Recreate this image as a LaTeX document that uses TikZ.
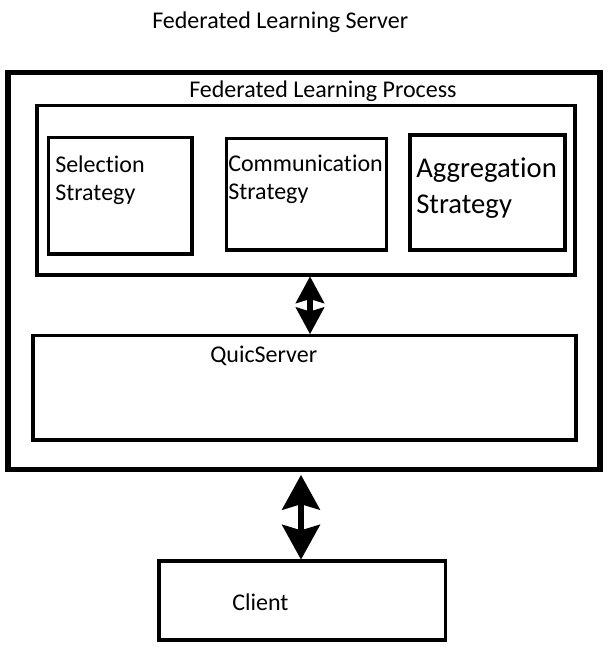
\documentclass[tikz,border=0pt]{standalone}
\usepackage{fontspec}
\setmainfont[Ligatures={NoCommon}]{Carlito}
\usetikzlibrary{arrows.meta,fit}
\begin{document}
\begin{tikzpicture}[x=0.75pt,y=-0.75pt,
  thinbox/.style={draw, line width=2.3pt, inner sep=0pt, outer sep=0pt},
  thickbox/.style={draw, line width=3.8pt, inner sep=0pt, outer sep=0pt},
  lbl/.style={anchor=base west, inner sep=0pt, align=left, font=\fontsize{18}{21}\selectfont},
  biglbl/.style={anchor=base west, inner sep=0pt, align=left, font=\fontsize{21.5}{26.5}\selectfont},
  dblA/.style={line width=4.5pt, {Stealth[length=20pt,width=21pt,inset=3pt]}-{Stealth[length=20pt,width=21pt,inset=3pt]}},
  dblB/.style={line width=5pt, {Stealth[length=26pt,width=28pt,inset=4pt]}-{Stealth[length=26pt,width=28pt,inset=4pt]}}]
\useasboundingbox (0,0) rectangle (613,651);
% boxes
\node[thickbox, fit={(8,72.5) (600,469.5)}] (server) {};
\node[thinbox, fit={(37,105.5) (575,275)}] (proc) {};
\node[thinbox, fit={(48.5,137.5) (192,254)}] (sel) {};
\node[thinbox, fit={(226.5,138.5) (386.5,250)}] (comm) {};
\node[thinbox, fit={(410,135) (565,250)}] (agg) {};
\node[thinbox, fit={(33,335.5) (576,440)}] (quic) {};
\node[thinbox, fit={(159,561) (445.5,640)}] (client) {};
% labels
\node[lbl] (title) at (152,28) {Federated Learning Server};
\node[lbl] (proclbl) at (189,97) {Federated Learning Process};
\node[lbl] (sellbl) at (55,200) {Selection\\Strategy};
\node[lbl] (commlbl) at (228,199) {Communication\\Strategy};
\node[biglbl] (agglbl) at (416,213) {Aggregation\\Strategy};
\node[lbl] (quiclbl) at (210,362) {QuicServer};
\node[lbl] (clientlbl) at (232,610) {Client};
% arrows
\coordinate (a1) at (310,0);
\coordinate (a2) at (301,0);
\draw[dblA, shorten <=1pt, shorten >=1pt] (proc.south -| a1) -- (quic.north -| a1);
\draw[dblB, shorten <=4pt, shorten >=1pt] (server.south -| a2) -- (client.north -| a2);
\end{tikzpicture}
\end{document}
